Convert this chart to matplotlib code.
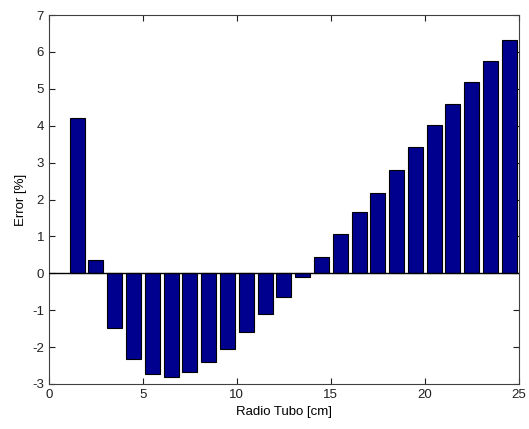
import matplotlib
matplotlib.use("Agg")
import matplotlib.pyplot as plt

radius = [1.5, 2.5, 3.5, 4.5, 5.5, 6.5, 7.5, 8.5, 9.5, 10.5, 11.5, 12.5,
          13.5, 14.5, 15.5, 16.5, 17.5, 18.5, 19.5, 20.5, 21.5, 22.5, 23.5, 24.5]
error = [4.22, 0.36, -1.47, -2.32, -2.73, -2.82, -2.67, -2.40, -2.06, -1.58, -1.11, -0.64,
         -0.11, 0.44, 1.06, 1.65, 2.19, 2.81, 3.43, 4.01, 4.60, 5.18, 5.76, 6.32]
xticks = [0, 5, 10, 15, 20, 25]
yticks = [-3, -2, -1, 0, 1, 2, 3, 4, 5, 6, 7]

plt.rcParams['font.family'] = ['Liberation Sans', 'DejaVu Sans']
plt.rcParams['axes.unicode_minus'] = False
fig = plt.figure(figsize=(5.29, 4.29), dpi=100)
ax = fig.add_axes([0.0926, 0.1049, 0.888, 0.860])
ax.bar(radius, error, width=0.8, color='#00008F', edgecolor='black', linewidth=0.8, zorder=2)
ax.axhline(0, color='black', linewidth=1.0, zorder=3)
ax.set_xlim(0, 25)
ax.set_ylim(-3, 7)
ax.set_xticks(xticks)
ax.set_yticks(yticks)
ax.tick_params(direction='in', top=True, right=True, length=4, width=0.8, labelsize=9.5, colors='#202020')
for s in ax.spines.values():
    s.set_color('#404040')
    s.set_linewidth(0.8)
ax.set_xlabel('Radio Tubo [cm]', fontsize=9.5, labelpad=4)
ax.set_ylabel('Error [%]', fontsize=9.5, labelpad=4)
fig.savefig('out.png', dpi=100)
